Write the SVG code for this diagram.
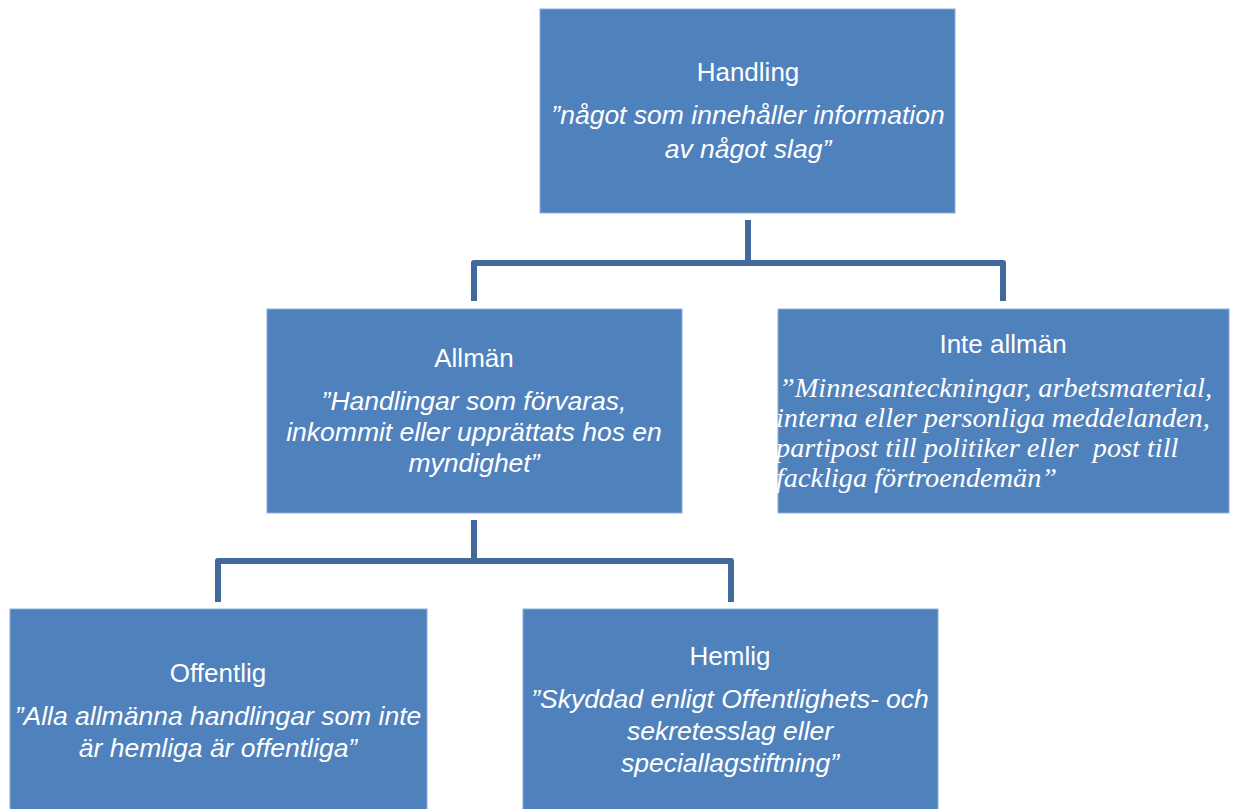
<svg xmlns="http://www.w3.org/2000/svg" width="1234" height="809" viewBox="0 0 1234 809">
<style>
.box{fill:#4f81bd;stroke:#8eaed8;stroke-width:1}
.conn{fill:none;stroke:#41699c;stroke-width:6;stroke-linejoin:round}
.t{font-family:"Liberation Sans",Arial,sans-serif;font-size:26px;fill:#ffffff;text-anchor:middle}
.b{font-family:"Liberation Sans",Arial,sans-serif;font-size:26.5px;font-style:italic;fill:#ffffff;text-anchor:middle}
.s{font-family:"Liberation Serif","Times New Roman",serif;font-size:28.3px;font-style:italic;fill:#ffffff;white-space:pre}
</style>
<rect width="1234" height="809" fill="#ffffff"/>
<g id="connectors">
<path class="conn" d="M748 220 V263"/>
<path class="conn" d="M474 301 V263 H1003 V301"/>
<path class="conn" d="M474 520 V561"/>
<path class="conn" d="M218 602 V561 H731 V602"/>
</g>
<g id="handling">
<rect class="box" x="540" y="9" width="415" height="204"/>
<text class="t" x="748" y="81">Handling</text>
<text class="b" x="748" y="124">”något som innehåller information</text>
<text class="b" x="748" y="158">av något slag”</text>
</g>
<g id="allman">
<rect class="box" x="267" y="309" width="415" height="204"/>
<text class="t" x="474" y="367">Allmän</text>
<text class="b" x="474" y="410">”Handlingar som förvaras,</text>
<text class="b" x="474" y="441">inkommit eller upprättats hos en</text>
<text class="b" x="474" y="472">myndighet”</text>
</g>
<g id="inte-allman">
<rect class="box" x="778" y="309" width="451" height="204"/>
<text class="t" x="1003" y="353">Inte allmän</text>
<text class="s" x="779" y="397">”Minnesanteckningar, arbetsmaterial,</text>
<text class="s" x="776" y="427">interna eller personliga meddelanden,</text>
<text class="s" x="776" y="457" xml:space="preserve">partipost till politiker eller  post till</text>
<text class="s" x="776" y="487">fackliga förtroendemän”</text>
</g>
<g id="offentlig">
<rect class="box" x="10" y="609" width="417" height="210"/>
<text class="t" x="218" y="682">Offentlig</text>
<text class="b" x="218" y="725">”Alla allmänna handlingar som inte</text>
<text class="b" x="218" y="757">är hemliga är offentliga”</text>
</g>
<g id="hemlig">
<rect class="box" x="523" y="609" width="415" height="210"/>
<text class="t" x="730" y="665">Hemlig</text>
<text class="b" x="730" y="708">”Skyddad enligt Offentlighets- och</text>
<text class="b" x="730" y="740">sekretesslag eller</text>
<text class="b" x="730" y="772">speciallagstiftning”</text>
</g>
</svg>
